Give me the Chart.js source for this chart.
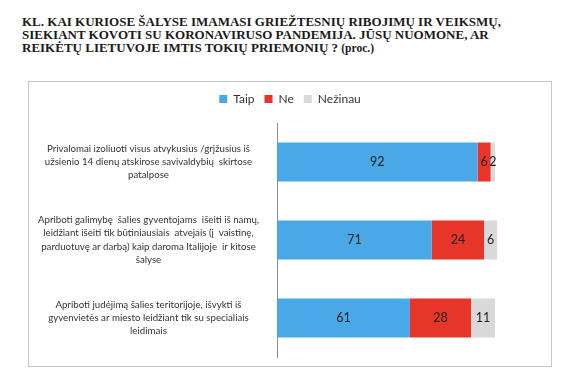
<!DOCTYPE html>
<html>
<head>
<meta charset="utf-8">
<script src="https://cdn.jsdelivr.net/npm/chart.js@4.4.1/dist/chart.umd.min.js"></script>
<style>
    body { margin: 0; background: #fff; width: 580px; height: 390px; position: relative; overflow: hidden; }
    .title {
        position: absolute; left: 22px; top: 15px;
        font-family: 'Liberation Serif', 'Times New Roman', serif;
        font-weight: bold; font-size: 13px; line-height: 13px; color: #1a1a1a;
    }
    .title small { font-size: 11.5px; }
    .box {
        position: absolute; left: 28px; top: 81px; width: 524px; height: 286px;
        box-sizing: border-box; border: 1px solid #c6c6c6;
    }
    canvas { display: block; }
</style>
</head>
<body>
<div class="title">
    KL. KAI KURIOSE ŠALYSE IMAMASI GRIEŽTESNIŲ RIBOJIMŲ IR VEIKSMŲ,<br>
    SIEKIANT KOVOTI SU KORONAVIRUSO PANDEMIJA. JŪSŲ NUOMONE, AR<br>
    REIKĖTŲ LIETUVOJE IMTIS TOKIŲ PRIEMONIŲ ? <small>(proc.)</small>
</div>
<div class="box"><canvas id="chart" width="522" height="284"></canvas></div>
<script>
    // klausimai (po eilutę)
    const categories = [
        ['Privalomai izoliuoti visus atvykusius /grįžusius iš', 'užsienio 14 dienų atskirose savivaldybių  skirtose', 'patalpose'],
        ['Apriboti galimybę  šalies gyventojams  išeiti iš namų,', 'leidžiant išeiti tik būtiniausiais  atvejais (į  vaistinę,', 'parduotuvę ar darbą) kaip daroma Italijoje  ir kitose', 'šalyse'],
        ['Apriboti judėjimą šalies teritorijoje, išvykti iš', 'gyvenvietės ar miesto leidžiant tik su specialiais', 'leidimais'],
    ];
    const taip = [92, 71, 61];
    const ne = [6, 24, 28];
    const nezinau = [2, 6, 11];

    const seriesNames = ['Taip', 'Ne', 'Nežinau'];
    const colors = ['#4aa8e6', '#e8352a', '#d9d9d9'];

    const labelFont = "'Lato', 'Open Sans', sans-serif";

    // skaičiai ant stulpelių
    const valueLabels = {
        id: 'valueLabels',
        afterDatasetsDraw(chart) {
            const ctx = chart.ctx;
            ctx.save();
            ctx.font = '12.5px ' + labelFont;
            ctx.fillStyle = '#222';
            ctx.textAlign = 'center';
            ctx.textBaseline = 'middle';
            chart.data.datasets.forEach((ds, i) => {
                chart.getDatasetMeta(i).data.forEach((bar, j) => {
                    const cx = (bar.x + bar.base) / 2;
                    ctx.fillText(ds.data[j], cx, bar.y);
                });
            });
            ctx.restore();
        },
    };

    // tarpas po legenda
    const legendGap = {
        id: 'legendGap',
        beforeInit(chart) {
            const fit = chart.legend.fit;
            chart.legend.fit = function () {
                fit.bind(chart.legend)();
                this.height += 8;
            };
        },
    };

    new Chart(document.getElementById('chart'), {
        type: 'bar',
        data: {
            labels: categories,
            datasets: [
                { label: seriesNames[0], data: taip, backgroundColor: colors[0] },
                { label: seriesNames[1], data: ne, backgroundColor: colors[1] },
                { label: seriesNames[2], data: nezinau, backgroundColor: colors[2] },
            ],
        },
        options: {
            indexAxis: 'y',
            responsive: false,
            animation: false,
            layout: { padding: { top: 1, right: 0, bottom: 9, left: 0 } },
            datasets: { bar: { categoryPercentage: 0.5, barPercentage: 1 } },
            scales: {
                x: { stacked: true, min: 0, max: 125.7, display: false },
                y: {
                    stacked: true,
                    grid: { display: false },
                    border: { display: true, color: '#8c8c8c' },
                    afterFit(scale) {
                        scale.width = 248;
                        scale.paddingTop = 0;
                        scale.paddingBottom = 0;
                    },
                    ticks: {
                        crossAlign: 'center',
                        padding: 10,
                        color: '#333',
                        font: { family: labelFont, size: 9.7, lineHeight: 1.37 },
                    },
                },
            },
            plugins: {
                legend: {
                    position: 'top',
                    labels: {
                        boxWidth: 8,
                        boxHeight: 8,
                        padding: 10,
                        color: '#333',
                        font: { family: labelFont, size: 12 },
                    },
                },
                tooltip: { enabled: false },
            },
        },
        plugins: [valueLabels, legendGap],
    });
</script>
</body>
</html>
